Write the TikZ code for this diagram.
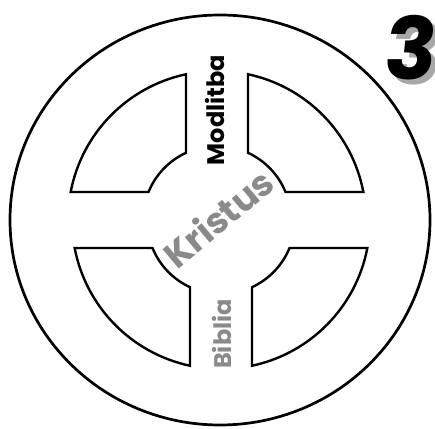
\documentclass[tikz,border=0pt]{standalone}
\usepackage{fontspec}
\setmainfont{Poppins}
\definecolor{txtgray}{HTML}{8A8A8A}
\definecolor{shadowgray}{HTML}{A8A8A8}
\tikzset{
  quadshape/.style={draw=black, line width=2.4pt, line join=miter},
  ring/.style={draw=black, line width=2.7pt},
  word/.style={inner sep=0pt, font=\bfseries\fontsize{24}{24}\selectfont},
}
\newcommand\quadrantpath{(31,67.2) -- (31,145.74) arc[start angle=77.99, end angle=10.83, radius=149] -- (68.5,28) arc[start angle=22.23, end angle=65.23, radius=74] -- cycle}
\begin{document}
\begin{tikzpicture}[x=1pt,y=1pt]
\useasboundingbox[fill=white] (0,0) rectangle (435,428);
% outer ring
\draw[ring] (220,208) ellipse[x radius=210, y radius=205];
% quadrants
\begin{scope}[shift={(217,208)}]
  \draw[quadshape] \quadrantpath;
\end{scope}
\begin{scope}[shift={(217,208)}, xscale=-1]
  \draw[quadshape] \quadrantpath;
\end{scope}
\begin{scope}[shift={(221,208)}, yscale=-1]
  \draw[quadshape] \quadrantpath;
\end{scope}
\begin{scope}[shift={(221,208)}, xscale=-1, yscale=-1]
  \draw[quadshape] \quadrantpath;
\end{scope}
% words
\node[word, rotate=90] (modlitba) at (215,318) {Modlitba};
\node[word, rotate=40, text=txtgray, font=\bfseries\fontsize{36}{36}\selectfont] (kristus) at (218,210) {Kristus};
\node[word, rotate=90, text=txtgray] (biblia) at (222,94) {Biblia};
% number 3 with shadow
\node[inner sep=0pt, xslant=0.1, text=shadowgray, font=\bfseries\fontsize{86}{86}\selectfont] (threeshadow) at (417,375) {3};
\node[inner sep=0pt, xslant=0.1, text=black, font=\bfseries\fontsize{86}{86}\selectfont] (three) at (412,380) {3};
\end{tikzpicture}
\end{document}
